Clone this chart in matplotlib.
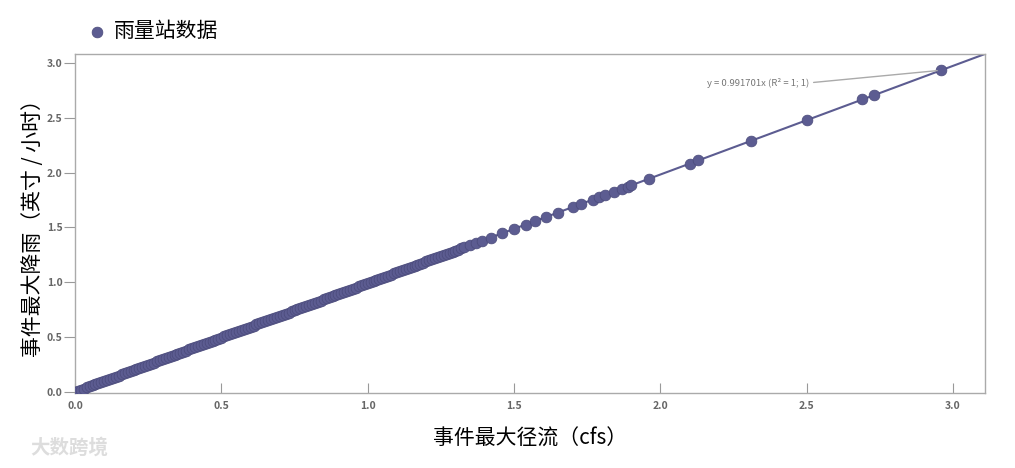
import matplotlib
matplotlib.use('Agg')
from matplotlib import pyplot as plt
import numpy as np

plt.rcParams['font.family'] = ['Noto Sans CJK SC', 'DejaVu Sans']

# 事件最大径流 (cfs) / 事件最大降雨 - 密集部分
x_dense = [0.00, 0.01, 0.02, 0.03, 0.04, 0.05, 0.06, 0.07, 0.08, 0.09,
           0.10, 0.11, 0.12, 0.13, 0.14, 0.15, 0.16, 0.17, 0.18, 0.19,
           0.20, 0.21, 0.22, 0.23, 0.24, 0.25, 0.26, 0.27, 0.28, 0.29,
           0.30, 0.31, 0.32, 0.33, 0.34, 0.35, 0.36, 0.37, 0.38, 0.39,
           0.40, 0.41, 0.42, 0.43, 0.44, 0.45, 0.46, 0.47, 0.48, 0.49,
           0.50, 0.51, 0.52, 0.53, 0.54, 0.55, 0.56, 0.57, 0.58, 0.59,
           0.60, 0.61, 0.62, 0.63, 0.64, 0.65, 0.66, 0.67, 0.68, 0.69,
           0.70, 0.71, 0.72, 0.73, 0.74, 0.75, 0.76, 0.77, 0.78, 0.79,
           0.80, 0.81, 0.82, 0.83, 0.84, 0.85, 0.86, 0.87, 0.88, 0.89,
           0.90, 0.91, 0.92, 0.93, 0.94, 0.95, 0.96, 0.97, 0.98, 0.99,
           1.00, 1.01, 1.02, 1.03, 1.04, 1.05, 1.06, 1.07, 1.08, 1.09,
           1.10, 1.11, 1.12, 1.13, 1.14, 1.15, 1.16, 1.17, 1.18, 1.19,
           1.20, 1.21, 1.22, 1.23, 1.24, 1.25, 1.26, 1.27, 1.28, 1.29,
           1.30, 1.31, 1.32, 1.33]
y_dense = [0.000, 0.010, 0.020, 0.030, 0.040, 0.050, 0.060, 0.069, 0.079, 0.089,
           0.099, 0.109, 0.119, 0.129, 0.139, 0.149, 0.159, 0.169, 0.179, 0.188,
           0.198, 0.208, 0.218, 0.228, 0.238, 0.248, 0.258, 0.268, 0.278, 0.288,
           0.298, 0.307, 0.317, 0.327, 0.337, 0.347, 0.357, 0.367, 0.377, 0.387,
           0.397, 0.407, 0.417, 0.426, 0.436, 0.446, 0.456, 0.466, 0.476, 0.486,
           0.496, 0.506, 0.516, 0.526, 0.536, 0.545, 0.555, 0.565, 0.575, 0.585,
           0.595, 0.605, 0.615, 0.625, 0.635, 0.645, 0.655, 0.664, 0.674, 0.684,
           0.694, 0.704, 0.714, 0.724, 0.734, 0.744, 0.754, 0.764, 0.774, 0.783,
           0.793, 0.803, 0.813, 0.823, 0.833, 0.843, 0.853, 0.863, 0.873, 0.883,
           0.893, 0.902, 0.912, 0.922, 0.932, 0.942, 0.952, 0.962, 0.972, 0.982,
           0.992, 1.002, 1.012, 1.021, 1.031, 1.041, 1.051, 1.061, 1.071, 1.081,
           1.091, 1.101, 1.111, 1.121, 1.131, 1.140, 1.150, 1.160, 1.170, 1.180,
           1.190, 1.200, 1.210, 1.220, 1.230, 1.240, 1.250, 1.259, 1.269, 1.279,
           1.289, 1.299, 1.309, 1.319]

# 稀疏部分
x_sparse = [1.35, 1.37, 1.39, 1.42, 1.46, 1.50, 1.54, 1.57, 1.61, 1.65,
            1.70, 1.73, 1.77, 1.79, 1.81, 1.84, 1.87, 1.89, 1.90, 1.96,
            2.10, 2.13, 2.31, 2.50, 2.69, 2.73, 2.96]
y_sparse = [1.339, 1.359, 1.378, 1.408, 1.448, 1.488, 1.527, 1.557, 1.597, 1.636,
            1.686, 1.716, 1.755, 1.775, 1.795, 1.825, 1.854, 1.874, 1.884, 1.944,
            2.083, 2.112, 2.291, 2.479, 2.668, 2.707, 2.935]

slope = 0.991701
fit_label = 'y = 0.991701x (R² = 1; 1)'

xs = np.array(x_dense + x_sparse)
ys = np.array(y_dense + y_sparse)

col = '#5c5c91'
grey = '#999999'

fig = plt.figure(figsize=(10.15, 4.68), dpi=100)
ax = fig.add_axes([0.0739, 0.1603, 0.8965, 0.7243])

ax.scatter(xs, ys, s=60, color=col, edgecolors='#4a4a7a', linewidths=0.5,
           zorder=3, label='雨量站数据')
xl = np.array([0, 3.2])
ax.plot(xl, slope * xl, color=col, lw=1.5, zorder=2)

ax.set_xlim(0, 3.109)
ax.set_ylim(-0.01, 3.083)
ax.set_xticks([0, 0.5, 1.0, 1.5, 2.0, 2.5, 3.0])
ax.set_yticks([0, 0.5, 1.0, 1.5, 2.0, 2.5, 3.0])
ax.set_xticklabels(['0.0', '0.5', '1.0', '1.5', '2.0', '2.5', '3.0'])
ax.set_yticklabels(['0.0', '0.5', '1.0', '1.5', '2.0', '2.5', '3.0'])
ax.tick_params(axis='x', direction='in', length=7, color=grey,
               labelsize=7.5, labelcolor='#666666', pad=6)
ax.tick_params(axis='y', direction='out', length=8, color=grey,
               labelsize=7.5, labelcolor='#666666', pad=1)
for t in ax.get_xticklabels() + ax.get_yticklabels():
    t.set_fontweight('bold')
for s in ax.spines.values():
    s.set_color('#aaaaaa')
    s.set_linewidth(1.0)

ax.set_xlabel('事件最大径流（cfs）', fontsize=15, labelpad=12)
ax.set_ylabel('事件最大降雨（英寸 / 小时）', fontsize=15, labelpad=2)

# 拟合线标注
ax.annotate(fit_label, xy=(x_sparse[-1], y_sparse[-1]), xytext=(2.16, 2.82),
            fontsize=6.8, color='#777777', va='center', ha='left',
            arrowprops=dict(arrowstyle='-', color='#aaaaaa', lw=1,
                            shrinkA=1, shrinkB=3,
                            relpos=(1.0, 0.5)))

leg = fig.legend(loc='upper left', bbox_to_anchor=(0.065, 0.997), frameon=False,
                 fontsize=15, handletextpad=0.2, handlelength=1.2, markerscale=1.0)

fig.text(0.03, 0.03, '大数跨境', fontsize=14, color='#dddddd', fontweight='bold')

fig.savefig('out.png', dpi=100)
